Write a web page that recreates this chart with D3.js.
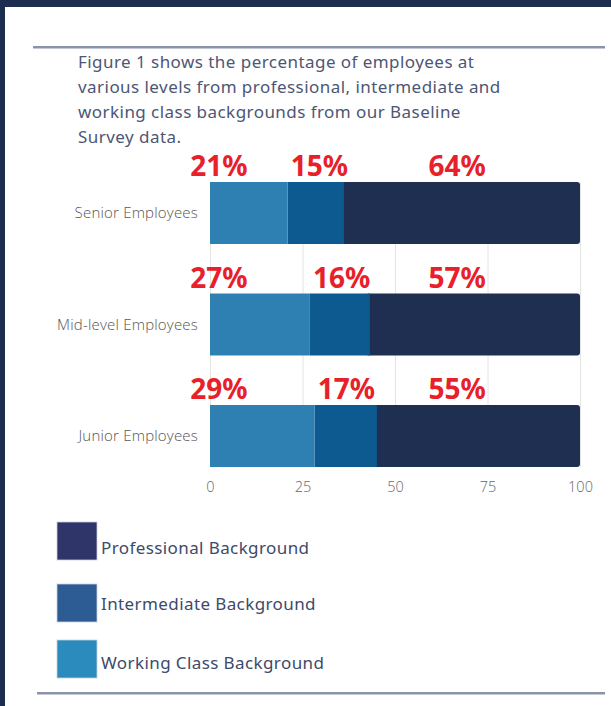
<!DOCTYPE html>
<html>
<head>
<meta charset="utf-8">
<script src="https://cdn.jsdelivr.net/npm/d3@7"></script>
<style>
  html, body { margin: 0; padding: 0; background: #fff; }
  svg { display: block; }
</style>
</head>
<body>
<svg id="chart" width="611" height="706"></svg>
<script>
// data
const categories = ['Senior Employees', 'Mid-level Employees', 'Junior Employees'];
const seriesNames = ['Working Class Background', 'Intermediate Background', 'Professional Background'];
const workingClass = [21, 27, 28.3];
const intermediate = [15.2, 16.2, 16.8];
const professional = [63.8, 56.8, 54.9];
const pctLabels = [
  ['21%', '15%', '64%'],
  ['27%', '16%', '57%'],
  ['29%', '17%', '55%']
];
const xTicks = [0, 25, 50, 75, 100];
const titleLines = [
  'Figure 1 shows the percentage of employees at',
  'various levels from professional, intermediate and',
  'working class backgrounds from our Baseline',
  'Survey data.'
];
const legendOrder = ['Professional Background', 'Intermediate Background', 'Working Class Background'];

const barColors = { 'Working Class Background': '#2f80b2', 'Intermediate Background': '#0d5a91', 'Professional Background': '#1e2f52' };
const legendColors = { 'Professional Background': '#2f3469', 'Intermediate Background': '#2d5b94', 'Working Class Background': '#2b8bbd' };

// legend layout: swatch top and text baseline
const legendRows = [{ top: 522, base: 554 }, { top: 584, base: 610 }, { top: 640, base: 669 }];

const svg = d3.select('#chart');

// frame
svg.append('rect').attr('x', 0).attr('y', 0).attr('width', 611).attr('height', 7).attr('fill', '#1c2e50');
svg.append('rect').attr('x', 0).attr('y', 0).attr('width', 5).attr('height', 706).attr('fill', '#1c2e50');

// rules
svg.append('rect').attr('x', 33).attr('y', 46).attr('width', 572).attr('height', 2.5).attr('fill', '#8a93a8');
svg.append('rect').attr('x', 37).attr('y', 692).attr('width', 568).attr('height', 2.5).attr('fill', '#8a93a8');

// title
svg.append('g').selectAll('text')
  .data(titleLines)
  .enter()
  .append('text')
  .attr('x', 78)
  .attr('y', (d, i) => 68 + i * 25)
  .attr('font-family', 'Noto Sans, sans-serif')
  .attr('font-size', 17)
  .attr('letter-spacing', 0.45)
  .attr('fill', '#4d5674')
  .text(d => d);

// scales
const xScale = d3.scaleLinear().domain([0, 100]).range([210, 580]);
const yScale = d3.scaleBand().domain(categories).range([157.25, 491.75])
  .paddingInner(0.444).paddingOuter(0.222);

const rows = categories.map((c, i) => ({
  category: c,
  'Working Class Background': workingClass[i],
  'Intermediate Background': intermediate[i],
  'Professional Background': professional[i]
}));
const stacked = d3.stack().keys(seriesNames)(rows);

// gridlines
const gridTop = yScale(categories[0]);
const gridBottom = yScale(categories[categories.length - 1]) + yScale.bandwidth();
svg.append('g').selectAll('line')
  .data(xTicks)
  .enter()
  .append('line')
  .attr('x1', d => xScale(d) + 0.5)
  .attr('x2', d => xScale(d) + 0.5)
  .attr('y1', gridTop)
  .attr('y2', gridBottom)
  .attr('stroke', '#e4e4e4')
  .attr('stroke-width', 1);

// bars (last series first, so its rounded left end hides under the others)
const barG = svg.append('g');
stacked.slice().reverse().forEach(series => {
  const isLast = series.key === seriesNames[seriesNames.length - 1];
  barG.append('g')
    .attr('fill', barColors[series.key])
    .selectAll('rect')
    .data(series)
    .enter()
    .append('rect')
    .attr('x', d => xScale(d[0]) - (isLast ? 4 : 0))
    .attr('y', d => yScale(d.data.category))
    .attr('width', d => xScale(Math.min(d[1], 100)) - xScale(d[0]) + (isLast ? 4 : 0))
    .attr('height', yScale.bandwidth())
    .attr('rx', isLast ? 3 : 0);
});

// y axis labels
svg.append('g').selectAll('text')
  .data(categories)
  .enter()
  .append('text')
  .attr('x', 198)
  .attr('y', d => yScale(d) + yScale.bandwidth() / 2)
  .attr('dy', '0.35em')
  .attr('text-anchor', 'end')
  .attr('font-family', 'Open Sans, sans-serif')
  .attr('font-weight', 300)
  .attr('font-size', 15)
  .attr('letter-spacing', 0.2)
  .attr('fill', '#555')
  .text(d => d);

// x axis tick labels
const xAxis = d3.axisBottom(xScale).tickValues(xTicks).tickSize(0).tickPadding(0);
const xAxisG = svg.append('g')
  .attr('transform', `translate(0, ${gridBottom + 15})`)
  .call(xAxis);
xAxisG.select('.domain').remove();
xAxisG.selectAll('text')
  .attr('font-family', 'Open Sans, sans-serif')
  .attr('font-weight', 300)
  .attr('font-size', 14.5)
  .attr('fill', '#666');

// red percentage labels
const labelG = svg.append('g');
categories.forEach((c, i) => {
  const top = yScale(c) - 6;
  const segStart = [0, workingClass[i], workingClass[i] + intermediate[i]];
  const anchors = ['middle', 'start', 'middle'];
  const xs = [xScale(2.4), xScale(segStart[1]) + 3, xScale(66.8)];
  pctLabels[i].forEach((t, j) => {
    labelG.append('text')
      .attr('x', xs[j])
      .attr('y', top)
      .attr('text-anchor', anchors[j])
      .attr('font-family', 'Noto Sans, sans-serif')
      .attr('font-weight', 700)
      .attr('font-size', 28)
      .attr('fill', '#e8202a')
      .text(t);
  });
});

// legend
const legend = svg.append('g').selectAll('g')
  .data(legendOrder)
  .enter()
  .append('g')
  .attr('transform', (d, i) => `translate(57, ${legendRows[i].top})`);
legend.append('rect')
  .attr('width', 40)
  .attr('height', 38)
  .attr('fill', d => legendColors[d])
  .attr('stroke', '#c8cfdc')
  .attr('stroke-width', 0.8);
legend.append('text')
  .attr('x', 44)
  .attr('y', (d, i) => legendRows[i].base - legendRows[i].top)
  .attr('font-family', 'Noto Sans, sans-serif')
  .attr('font-size', 17)
  .attr('letter-spacing', 0.4)
  .attr('fill', '#3d4a6a')
  .text(d => d);
</script>
</body>
</html>
